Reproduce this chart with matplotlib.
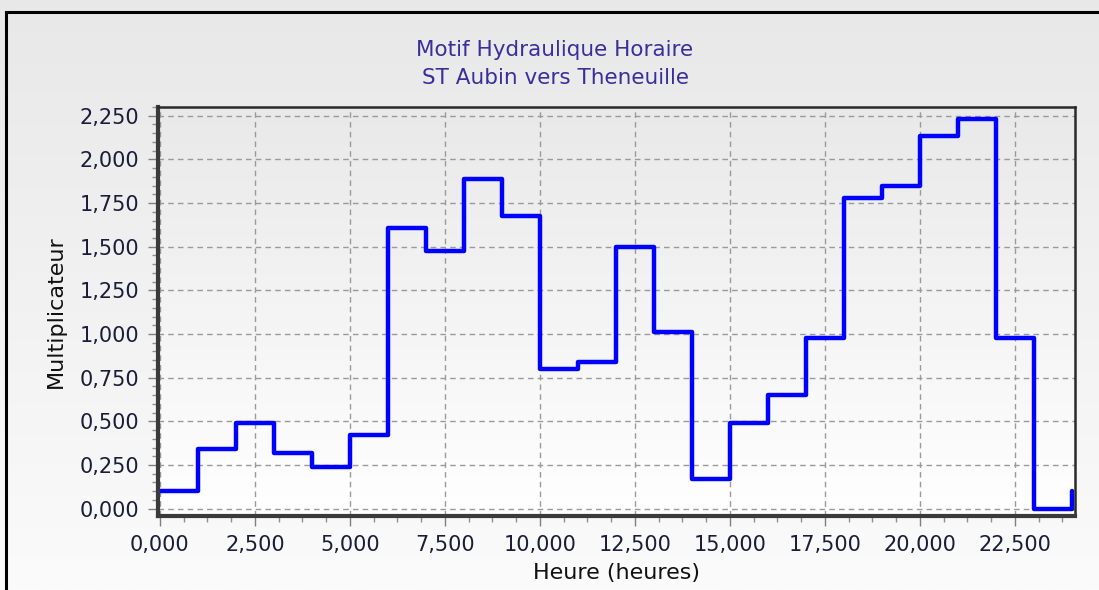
import matplotlib
matplotlib.use("Agg")
import matplotlib.pyplot as plt
import numpy as np
from matplotlib.ticker import MultipleLocator, FuncFormatter
from matplotlib.lines import Line2D

# hourly multipliers (hour 0 .. 23)
heures = list(range(25))
multiplicateur = [0.10, 0.34, 0.49, 0.32, 0.24, 0.42, 1.605, 1.475, 1.89, 1.675,
                  0.80, 0.84, 1.50, 1.01, 0.17, 0.49, 0.65, 0.98, 1.78, 1.85,
                  2.135, 2.23, 0.98, 0.0]
titre = ["Motif Hydraulique Horaire", "ST Aubin vers Theneuille"]
xlabel = "Heure (heures)"
ylabel = "Multiplicateur"

# pattern repeats: last point back to the first value
y_vals = multiplicateur + [multiplicateur[0]]

plt.rcParams['font.family'] = ['DejaVu Sans']

fig = plt.figure(figsize=(10.99, 5.90), dpi=100)

# figure background gradient
bg = fig.add_axes([0, 0, 1, 1], zorder=-10)
grad = np.linspace(0, 1, 256).reshape(-1, 1)
bg.imshow(grad, aspect='auto', cmap=matplotlib.colors.LinearSegmentedColormap.from_list(
    'g', ['#e8e8e8', '#fbfbfb']), extent=[0, 1, 0, 1])
bg.set_axis_off()

# outer border (top and left)
fig.add_artist(Line2D([6 / 1099, 6 / 1099], [0, 1 - 12 / 590], color='black', lw=2.2,
                      transform=fig.transFigure))
fig.add_artist(Line2D([6 / 1099, 1], [1 - 12 / 590, 1 - 12 / 590], color='black', lw=2.2,
                      transform=fig.transFigure))

ax = fig.add_axes([158 / 1099, 1 - 516 / 590, (1075 - 158) / 1099, (516 - 107) / 590])
ax.patch.set_alpha(0)

# axes background gradient
ax.imshow(grad, aspect='auto', cmap=matplotlib.colors.LinearSegmentedColormap.from_list(
    'a', ['#e9e9e9', '#ffffff']), extent=[-0.05, 24.08, -0.042, 2.30], zorder=0)

ax.step(heures, y_vals, where='post', color='#0000ff', lw=3.2,
        solid_joinstyle='round', solid_capstyle='round', zorder=3)

ax.set_xlim(-0.05, 24.08)
ax.set_ylim(-0.042, 2.30)

ax.xaxis.set_major_locator(MultipleLocator(2.5))
ax.xaxis.set_minor_locator(MultipleLocator(0.625))
ax.yaxis.set_major_locator(MultipleLocator(0.25))
ax.yaxis.set_minor_locator(MultipleLocator(0.05))

fmt = FuncFormatter(lambda v, p: f"{v:.3f}".replace('.', ','))
ax.xaxis.set_major_formatter(fmt)
ax.yaxis.set_major_formatter(fmt)

ax.grid(True, which='major', color='#9a9a9a', ls=(0, (4, 3)), lw=1.0, zorder=1)

ax.tick_params(which='major', length=7.5, width=1, color='#808080',
               labelsize=15, labelcolor='#1c1c3a', pad=6)
ax.tick_params(which='minor', length=4.5, width=1, color='#909090')

for s in ['left', 'bottom']:
    ax.spines[s].set_linewidth(3.0)
    ax.spines[s].set_color('#3a3a3a')
for s in ['top', 'right']:
    ax.spines[s].set_linewidth(1.8)
    ax.spines[s].set_color('#2a2a2a')
for s in ax.spines.values():
    s.set_zorder(5)

ax.set_xlabel(xlabel, fontsize=16, color='#111111', labelpad=6)
ax.set_ylabel(ylabel, fontsize=16, color='#111111', labelpad=10)

fig.text(555 / 1099, 1 - 50 / 590, titre[0], ha='center', va='center',
         fontsize=15.5, color='#3a2d9c')
fig.text(555 / 1099, 1 - 78 / 590, titre[1], ha='center', va='center',
         fontsize=15.5, color='#3a2d9c')

fig.savefig('out.png', dpi=100)
